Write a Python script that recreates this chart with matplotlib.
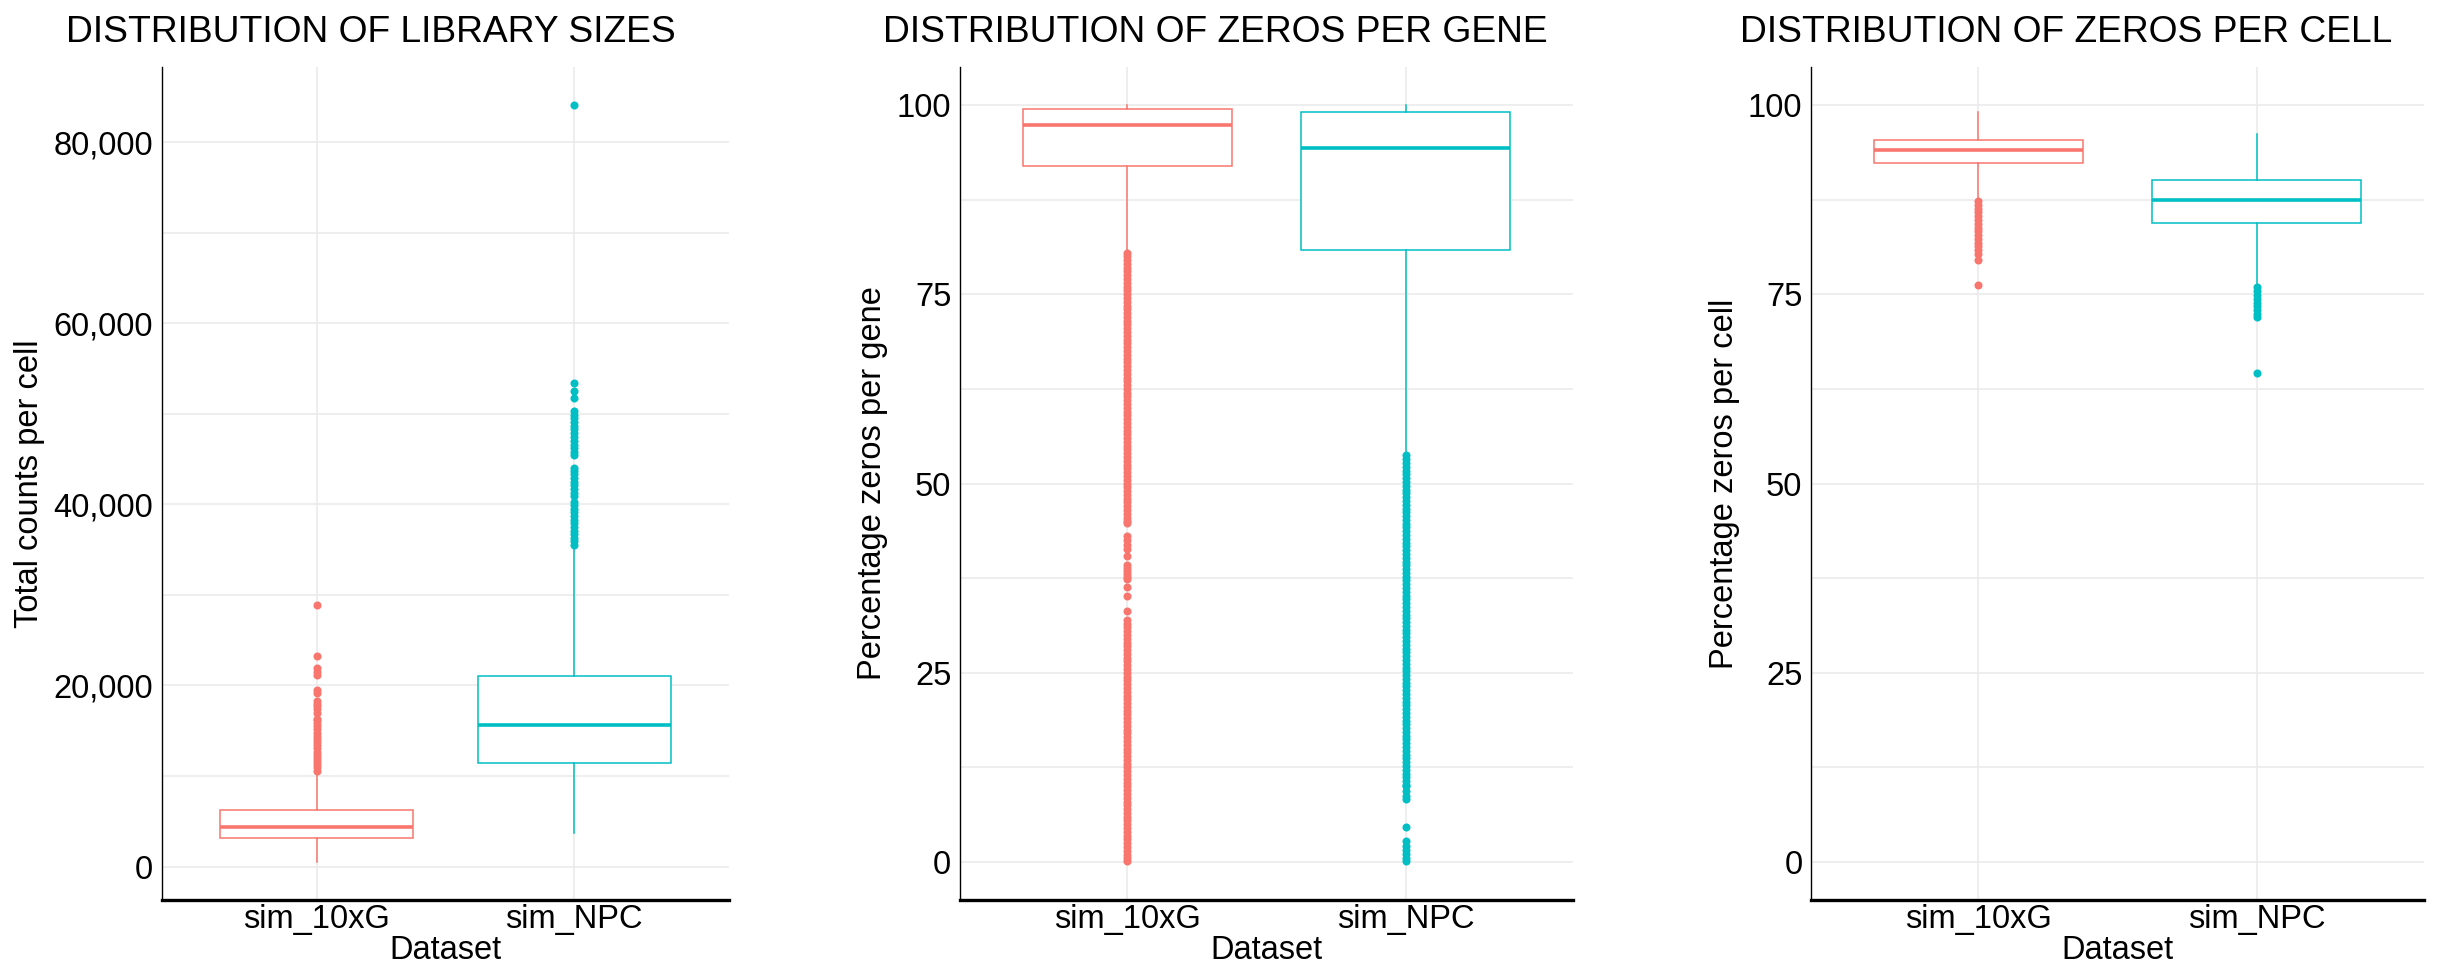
import matplotlib
matplotlib.use("Agg")
import matplotlib.pyplot as plt
from matplotlib.ticker import FuncFormatter, MultipleLocator

##### data
categories = ["sim_10xG", "sim_NPC"]
colors = ["#F8766D", "#00BFC4"]

# box stats: whislo, q1, med, q3, whishi
lib_10xg_box = [475, 3127, 4386, 6188, 10387]
lib_npc_box = [3713, 11459, 15602, 21028, 35390]
lib_10xg_out = [10600, 10950, 11300, 11650, 12000, 12350, 12700, 13050, 13400,
                13750, 14100, 14450, 14800, 15150, 15500, 15850, 16200, 16300,
                17000, 17350, 17700, 18000, 18250, 19200, 19550, 21150, 21500,
                21900, 23200, 28900]
lib_npc_out = [35500, 35900, 36300, 36700, 37100, 37500, 37900, 38300, 38700,
               39100, 39500, 39900, 40300, 40900, 41300, 41700, 42100, 42500,
               42900, 43300, 43700, 44000, 45400, 45800, 46200, 46600, 47000,
               47400, 47900, 48300, 48700, 49100, 49500, 49900, 50300, 51700,
               52500, 53400, 84100]

gene_10xg_box = [80.8, 91.9, 97.3, 99.47, 100]
gene_npc_box = [54.0, 80.9, 94.25, 99.03, 100]
gene_10xg_out = [80.5, 80.0, 79.5, 79.0, 78.5, 78.0, 77.5, 77.0, 76.5, 76.0,
                 75.5, 75.0, 74.5, 74.0, 73.5, 73.0, 72.5, 72.0, 71.5, 71.0,
                 70.5, 70.0, 69.5, 69.0, 68.5, 68.0, 67.5, 67.0, 66.5, 66.0,
                 65.5, 65.0, 64.5, 64.0, 63.5, 63.0, 62.5, 62.0, 61.5, 61.0,
                 60.5, 60.0, 59.5, 59.0, 58.5, 58.0, 57.5, 57.0, 56.5, 56.0,
                 55.5, 55.0, 54.5, 54.0, 53.5, 53.0, 52.5, 52.0, 51.5, 51.0,
                 50.5, 50.0, 49.5, 49.0, 48.5, 48.0, 47.5, 47.0, 46.5, 46.0,
                 45.5, 45.0, 44.8, 43.1, 42.6, 41.9, 41.3, 40.4, 39.3, 38.9,
                 38.5, 38.1, 37.7, 37.4, 36.4, 35.1, 33.1, 32.0, 31.5, 31.0,
                 30.5, 30.0, 29.5, 29.0, 28.5, 28.0, 27.5, 27.0, 26.5, 26.0,
                 25.5, 25.0, 24.5, 24.0, 23.5, 23.0, 22.5, 22.0, 21.5, 21.0,
                 20.5, 20.0, 19.5, 19.0, 18.5, 18.0, 17.5, 17.0, 16.5, 16.0,
                 15.5, 15.0, 14.5, 14.0, 13.5, 13.0, 12.5, 12.0, 11.5, 11.0,
                 10.5, 10.0, 9.5, 9.0, 8.5, 8.0, 7.5, 7.0, 6.5, 6.0, 5.5, 5.0,
                 4.5, 4.0, 3.5, 3.0, 2.5, 2.0, 1.5, 1.0, 0.5, 0.1]
gene_npc_out = [53.7, 53.2, 52.7, 52.2, 51.7, 51.2, 50.7, 50.2, 49.7, 49.2,
                48.7, 48.2, 47.7, 47.2, 46.7, 46.2, 45.7, 45.2, 44.7, 44.2,
                43.7, 43.2, 42.7, 42.2, 41.7, 41.2, 40.7, 40.2, 39.7, 39.2,
                38.7, 38.2, 37.7, 37.2, 36.7, 36.2, 35.7, 35.2, 34.7, 34.2,
                33.7, 33.2, 32.7, 32.2, 31.7, 31.2, 30.7, 30.2, 29.7, 29.2,
                28.7, 28.2, 27.7, 27.2, 26.7, 26.2, 25.7, 25.2, 24.7, 24.2,
                23.7, 23.2, 22.7, 22.2, 21.7, 21.2, 20.7, 20.2, 19.7, 19.2,
                18.7, 18.2, 17.7, 17.2, 16.7, 16.2, 15.7, 15.2, 14.7, 14.2,
                13.7, 13.2, 12.7, 12.2, 11.7, 11.2, 10.7, 10.2, 10.0, 9.4,
                8.8, 8.3, 4.6, 2.8, 2.1, 1.6, 1.1, 0.6, 0.1]

cell_10xg_box = [87.7, 92.26, 94.0, 95.35, 99.1]
cell_npc_box = [76.3, 84.43, 87.43, 90.07, 96.09]
cell_10xg_out = [87.3, 86.8, 86.3, 85.8, 85.3, 84.8, 84.3, 83.8, 83.3, 82.8,
                 82.3, 81.8, 81.3, 80.8, 80.3, 79.5, 76.2]
cell_npc_out = [75.9, 75.4, 74.9, 74.4, 73.9, 73.4, 72.9, 72.4, 72.0, 64.6]

titles = ["DISTRIBUTION OF LIBRARY SIZES", "DISTRIBUTION OF ZEROS PER GENE",
          "DISTRIBUTION OF ZEROS PER CELL"]
ylabels = ["Total counts per cell", "Percentage zeros per gene",
           "Percentage zeros per cell"]
xlabel = "Dataset"

plt.rcParams['font.family'] = ['Liberation Sans', 'DejaVu Sans']

def make_stats(box, fliers, label):
    return dict(whislo=box[0], q1=box[1], med=box[2], q3=box[3],
                whishi=box[4], fliers=fliers, label=label)

def draw_panel(ax, boxes, outs, ylim, major, minor, ylabel, fmt=None):
    for i, (box, out) in enumerate(zip(boxes, outs)):
        st = [make_stats(box, out, categories[i])]
        c = colors[i]
        ax.bxp(st, positions=[i], widths=0.75, patch_artist=True,
               showcaps=False,
               boxprops=dict(facecolor="white", edgecolor=c, linewidth=1.1),
               medianprops=dict(color=c, linewidth=2.6, solid_capstyle="butt"),
               whiskerprops=dict(color=c, linewidth=1.1),
               flierprops=dict(marker="o", markerfacecolor=c,
                               markeredgecolor="none", markersize=5.8))
    ax.set_xlim(-0.6, 1.6)
    ax.set_ylim(*ylim)
    ax.set_xticks([0, 1])
    ax.set_xticklabels(categories)
    ax.yaxis.set_major_locator(MultipleLocator(major))
    ax.yaxis.set_minor_locator(MultipleLocator(minor))
    if fmt:
        ax.yaxis.set_major_formatter(fmt)
    ax.grid(True, which="both", axis="y", color="#EBEBEB", linewidth=1.2)
    ax.grid(True, which="major", axis="x", color="#EBEBEB", linewidth=1.2)
    ax.set_axisbelow(True)
    for s in ["top", "right"]:
        ax.spines[s].set_visible(False)
    ax.spines["left"].set_linewidth(1.0)
    ax.spines["bottom"].set_linewidth(2.4)
    ax.tick_params(which="both", length=0, labelsize=23.5, colors="black")
    ax.tick_params(axis="y", pad=6.5)
    ax.tick_params(axis="x", pad=3)
    ax.set_xlabel(xlabel, fontsize=23.5, labelpad=0)
    ax.set_ylabel(ylabel, fontsize=23.5, labelpad=6)


fig = plt.figure(figsize=(24.43, 9.77), dpi=100)
ax1 = fig.add_axes([0.0664, 0.0788, 0.2318, 0.8526])
ax2 = fig.add_axes([0.3931, 0.0788, 0.2506, 0.8526])
ax3 = fig.add_axes([0.7415, 0.0788, 0.2506, 0.8526])

comma = FuncFormatter(lambda v, p: f"{int(v):,}")
draw_panel(ax1, [lib_10xg_box, lib_npc_box], [lib_10xg_out, lib_npc_out],
           (-3700, 88300), 20000, 10000, ylabels[0], comma)
draw_panel(ax2, [gene_10xg_box, gene_npc_box], [gene_10xg_out, gene_npc_out],
           (-5, 105), 25, 12.5, ylabels[1])
draw_panel(ax3, [cell_10xg_box, cell_npc_box], [cell_10xg_out, cell_npc_out],
           (-5, 105), 25, 12.5, ylabels[2])

# titles centred over ylabel + panel, like ggplot plot.title.position="plot"
fig.canvas.draw()
W = fig.get_size_inches()[0] * fig.dpi
for ax, t in zip([ax1, ax2, ax3], titles):
    left = ax.yaxis.label.get_window_extent().x0
    right = ax.get_window_extent().x1
    fig.text((left + right) / 2 / W, 0.9573, t, ha="center", va="baseline",
             fontsize=26.8, color="black")

fig.savefig("out.png", dpi=100)
